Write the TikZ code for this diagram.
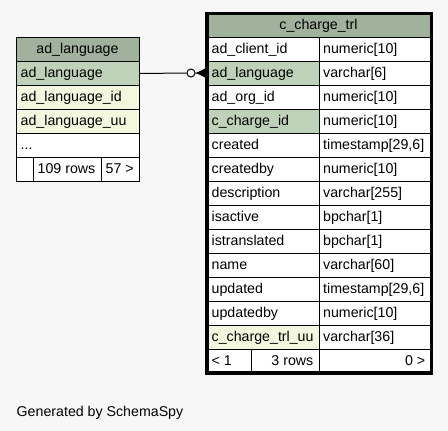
\documentclass[tikz,border=0pt]{standalone}
\usepackage{fontspec}
\setmainfont{Liberation Sans}
\newcommand\fs{\fontsize{14.2}{17}\selectfont}
\definecolor{bgc}{RGB}{247,247,247}
\definecolor{hdc}{RGB}{160,177,156}
\definecolor{keyc}{RGB}{190,210,186}
\definecolor{idxc}{RGB}{243,247,221}
\tikzset{
  cellbox/.style={draw=black, line width=1pt, inner sep=0pt, anchor=north west, minimum height=24pt},
  txt/.style={anchor=base west, inner sep=0pt, font=\fs},
  txtr/.style={anchor=base east, inner sep=0pt, font=\fs},
  txtc/.style={anchor=base, inner sep=0pt, font=\fs},
}
% left-table row: index, y-top, text, colour
\newcommand\lrowmk[4]{%
  \fill[#4] (16,#2) rectangle ++(123,24);
  \node[cellbox, minimum width=123pt] (lrow#1) at (16,#2) {};
  \node[txt] (lrowt#1) at (20.5,#2+16) {#3};}
% right-table row: index, y-top, name, type, colour
\newcommand\rrowmk[5]{%
  \fill[#5] (207.5,#2) rectangle ++(111.5,24);
  \fill[white] (319,#2) rectangle ++(111,24);
  \node[cellbox, minimum width=111.5pt] (rrow#1) at (207.5,#2) {};
  \node[cellbox, minimum width=111pt] (rtyp#1) at (319,#2) {};
  \node[txt] (rrowt#1) at (211.5,#2+16) {#3};
  \node[txt] (rtypt#1) at (323,#2+16) {#4};}
\begin{document}
\begin{tikzpicture}[x=1pt,y=-1pt]
\fill[bgc] (0,0) rectangle (448,431);
\useasboundingbox (0,0) rectangle (448,431);

% ---------- left table: ad_language ----------
\node[cellbox, fill=hdc, minimum width=123pt] (lhead) at (16,37) {};
\node[txtc] (lheadt) at (77.5,53) {ad\_language};
\lrowmk{0}{61}{ad\_language}{keyc}
\lrowmk{1}{85}{ad\_language\_id}{idxc}
\lrowmk{2}{109}{ad\_language\_uu}{idxc}
\lrowmk{3}{133}{...}{white}
\node[cellbox, fill=white, minimum width=17pt] (lf0) at (16,157) {};
\node[cellbox, fill=white, minimum width=68pt] (lf1) at (33,157) {};
\node[cellbox, fill=white, minimum width=38pt] (lf2) at (101,157) {};
\node[txt] (lf1t) at (37.5,173) {109 rows};
\node[txt] (lf2t) at (105.5,173) {57 >};

% ---------- right table: c_charge_trl ----------
\node[cellbox, fill=hdc, minimum width=222.5pt] (rhead) at (207.5,13) {};
\node[txtc] (rheadt) at (318.5,29) {c\_charge\_trl};
\rrowmk{0}{37}{ad\_client\_id}{numeric[10]}{white}
\rrowmk{1}{61}{ad\_language}{varchar[6]}{keyc}
\rrowmk{2}{85}{ad\_org\_id}{numeric[10]}{white}
\rrowmk{3}{109}{c\_charge\_id}{numeric[10]}{keyc}
\rrowmk{4}{133}{created}{timestamp[29,6]}{white}
\rrowmk{5}{157}{createdby}{numeric[10]}{white}
\rrowmk{6}{181}{description}{varchar[255]}{white}
\rrowmk{7}{205}{isactive}{bpchar[1]}{white}
\rrowmk{8}{229}{istranslated}{bpchar[1]}{white}
\rrowmk{9}{253}{name}{varchar[60]}{white}
\rrowmk{10}{277}{updated}{timestamp[29,6]}{white}
\rrowmk{11}{301}{updatedby}{numeric[10]}{white}
\rrowmk{12}{325}{c\_charge\_trl\_uu}{varchar[36]}{idxc}
\node[cellbox, fill=white, minimum width=43.5pt, minimum height=22pt] (rf0) at (207.5,349) {};
\node[cellbox, fill=white, minimum width=68pt, minimum height=22pt] (rf1) at (251,349) {};
\node[cellbox, fill=white, minimum width=111pt, minimum height=22pt] (rf2) at (319,349) {};
\node[txt] (rf0t) at (211.5,365) {< 1};
\node[txtr] (rf1t) at (313.5,365) {3 rows};
\node[txtr] (rf2t) at (425.5,365) {0 >};
\draw[line width=3pt] (206,13) rectangle (431.5,373);

% ---------- connector ----------
\node[circle, draw=black, line width=1pt, fill=white, minimum size=8pt, inner sep=0pt] (odot) at (191,73) {};
\coordinate (crowtip) at (196,73);
\draw[line width=1pt] (lrow0.east) -- (odot.west);
\draw[line width=1pt] (odot.east) -- (rrow1.west);
\fill (crowtip) -- (205,68.5) -- (205,77.5) -- cycle;

\node[txt] (gen) at (16.5,416) {Generated by SchemaSpy};
\end{tikzpicture}
\end{document}
